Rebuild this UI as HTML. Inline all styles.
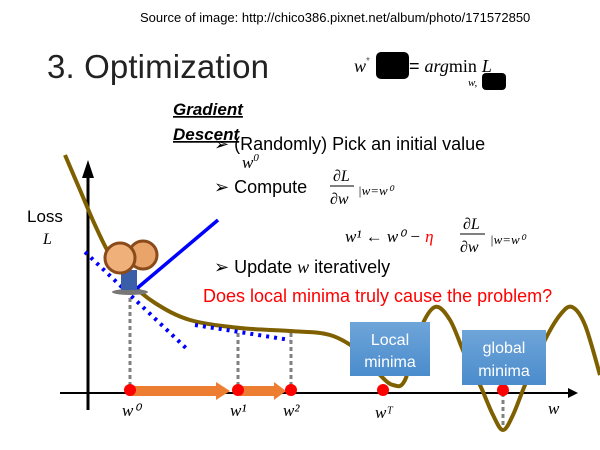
<!DOCTYPE html>
<html><head><meta charset="utf-8"><style>
body{margin:0;background:#fff}
svg{display:block;font-family:"Liberation Sans",sans-serif}
.m{font-family:"Liberation Serif",serif;font-style:italic}
</style></head><body>
<svg id="s" width="600" height="450" viewBox="0 0 600 450">
<defs><linearGradient id="bg" x1="0" y1="0" x2="0" y2="1"><stop offset="0" stop-color="#6fa5d9"/><stop offset="1" stop-color="#4a8ccc"/></linearGradient></defs>
<text x="140" y="22" font-size="13">Source of image: http://chico386.pixnet.net/album/photo/171572850</text>
<text x="47" y="78" font-size="33" fill="#222" textLength="222">3. Optimization</text>
<g>
<text x="354" y="72" class="m" font-size="18">w</text><text x="366" y="64" font-size="10" fill="#555">*</text>
<rect x="376" y="52" width="33" height="27" rx="5" fill="#000"/>
<text x="409" y="72" font-size="18">= <tspan class="m">arg</tspan><tspan font-family="Liberation Serif">min</tspan> <tspan class="m">L</tspan></text>
<text x="468" y="86" class="m" font-size="11">w,</text>
<rect x="482" y="73" width="24" height="17" rx="4" fill="#000"/>
</g>
<text x="173" y="115" font-size="17" font-weight="bold" font-style="italic" text-decoration="underline">Gradient</text>
<text x="173" y="140" font-size="17" font-weight="bold" font-style="italic" text-decoration="underline">Descent</text>
<g font-size="18">
<text x="214" y="150">➢ (Randomly) Pick an initial value</text>
<text x="242" y="168" class="m" font-size="17">w<tspan font-size="11" dy="-7">0</tspan></text>
<text x="214" y="193">➢ Compute</text>
<text x="333" y="181" class="m" font-size="16">∂L</text>
<line x1="330" y1="186" x2="354" y2="186" stroke="#000"/>
<text x="330" y="204" class="m" font-size="16">∂w</text>
<text x="358" y="195" class="m" font-size="13">|w=w⁰</text>
<text x="345" y="242" class="m" font-size="17">w¹ ← w⁰ − <tspan fill="red">η</tspan></text>
<text x="463" y="229" class="m" font-size="16">∂L</text>
<line x1="460" y1="234" x2="485" y2="234" stroke="#000"/>
<text x="460" y="252" class="m" font-size="16">∂w</text>
<text x="490" y="244" class="m" font-size="13">|w=w⁰</text>
<text x="214" y="273">➢ Update <tspan class="m">w</tspan> iteratively</text>
</g>
<text x="203" y="302" font-size="18" fill="#f00">Does local minima truly cause the problem?</text>
<text x="27" y="222" font-size="17">Loss</text>
<text x="43" y="244" class="m" font-size="16">L</text>
<line x1="88" y1="410" x2="88" y2="175" stroke="#000" stroke-width="3"/>
<polygon points="82,178 94,178 88,160" fill="#000"/>
<line x1="60" y1="393" x2="570" y2="393" stroke="#000" stroke-width="2"/>
<polygon points="568,388 578,393 568,398" fill="#000"/>
<g id="dots"></g>
<path id="curve" fill="none" stroke="#7f6000" stroke-width="4"/>
<line x1="85" y1="252" x2="188" y2="350" stroke="#00f" stroke-width="4" stroke-dasharray="3,5"/>
<line x1="135" y1="290" x2="218" y2="220" stroke="#00f" stroke-width="3.5"/>
<line x1="195" y1="325" x2="290" y2="340" stroke="#00f" stroke-width="4" stroke-dasharray="3,5"/>
<g>
<ellipse cx="130" cy="292" rx="18" ry="3" fill="#777"/>
<rect x="121" y="270" width="16" height="20" fill="#3a5fa8"/>
<circle cx="143" cy="255" r="14" fill="#e9a46a" stroke="#8a4a1a" stroke-width="3"/>
<circle cx="120" cy="258" r="15" fill="#f0b07a" stroke="#8a4a1a" stroke-width="3"/>
</g>
<rect x="130" y="386" width="88" height="10" fill="#ed7d31"/>
<polygon points="216,382 230,391 216,400" fill="#ed7d31"/>
<rect x="240" y="386" width="36" height="10" fill="#ed7d31"/>
<polygon points="274,382 286,391 274,400" fill="#ed7d31"/>
<g fill="#f00" id="pts"></g>
<g class="m" font-size="17">
<text x="122" y="416">w⁰</text><text x="230" y="416">w¹</text><text x="283" y="416">w²</text><text x="375" y="418">wᵀ</text><text x="548" y="414">w</text>
</g>
<g>
<rect x="350" y="322" width="80" height="54" fill="url(#bg)"/>
<text x="390" y="345" text-anchor="middle" fill="#fff" font-size="16">Local</text>
<text x="390" y="367" text-anchor="middle" fill="#fff" font-size="16">minima</text>
</g>
<g>
<rect x="462" y="330" width="84" height="55" fill="url(#bg)"/>
<text x="504" y="353" text-anchor="middle" fill="#fff" font-size="16">global</text>
<text x="504" y="376" text-anchor="middle" fill="#fff" font-size="16">minima</text>
</g>
</svg>
<script>
const curveX=[65,80,95,110,130,155,190,240,290,330,360,380,393,405,420,435,450,465,480,493,503,513,525,545,560,572,585,600];
const curveY=[155,190,225,255,282,303,320,328,331,335,352,375,385,380,330,307,320,355,385,415,430,415,385,340,315,307,325,375];
const stepX=[130,238,291,383,503];
const stepTopY=[295,328,330,393,430];
let d='M'+curveX[0]+','+curveY[0];
for(let i=0;i<curveX.length-1;i++){
 const p0=[curveX[Math.max(i-1,0)],curveY[Math.max(i-1,0)]],p1=[curveX[i],curveY[i]],p2=[curveX[i+1],curveY[i+1]],p3=[curveX[Math.min(i+2,curveX.length-1)],curveY[Math.min(i+2,curveX.length-1)]];
 d+=' C'+(p1[0]+(p2[0]-p0[0])/6)+','+(p1[1]+(p2[1]-p0[1])/6)+' '+(p2[0]-(p3[0]-p1[0])/6)+','+(p2[1]-(p3[1]-p1[1])/6)+' '+p2[0]+','+p2[1];
}
document.getElementById('curve').setAttribute('d',d);
const ns='http://www.w3.org/2000/svg';
stepX.forEach((x,i)=>{
 if(stepTopY[i]!==393){
 const l=document.createElementNS(ns,'line');
 
 
 l.setAttribute('x1',x);l.setAttribute('x2',x);l.setAttribute('y1',393);l.setAttribute('y2',stepTopY[i]);
 l.setAttribute('stroke','#808080');l.setAttribute('stroke-width','3');l.setAttribute('stroke-dasharray','4,3');
 document.getElementById('dots').appendChild(l);}
 const c=document.createElementNS(ns,'circle');
 
 
 c.setAttribute('cx',x);c.setAttribute('cy',390);c.setAttribute('r',6);
 document.getElementById('pts').appendChild(c);
});
</script>
</body></html>
